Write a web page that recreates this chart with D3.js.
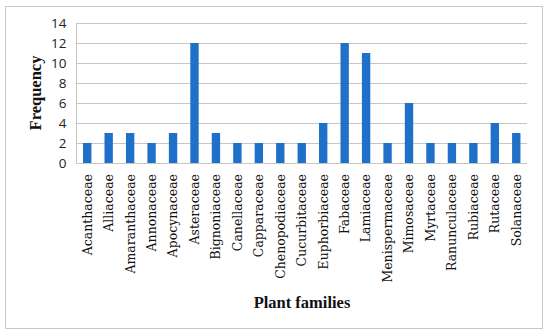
<!DOCTYPE html>
<html>
<head>
<meta charset="utf-8" />
<script src="https://d3js.org/d3.v7.min.js"></script>
<style>
  body { margin: 0; background: #fff; }
  .grid line { stroke: #c6c6c6; stroke-width: 1; }
  .ytick text { font-family: "Open Sans", "Liberation Sans", sans-serif; font-size: 13.5px; fill: #222; }
  .xlab { font-family: "DejaVu Serif", serif; font-size: 12.5px; fill: #111; }
  .title { font-family: "Liberation Serif", serif; font-size: 16.5px; font-weight: bold; fill: #111; }
</style>
</head>
<body>
<svg id="chart" width="550" height="334"></svg>
<script>
var families = ["Acanthaceae", "Alliaceae", "Amaranthaceae", "Annonaceae", "Apocynaceae",
  "Asteraceae", "Bignoniaceae", "Canellaceae", "Capparaceae", "Chenopodiaceae",
  "Cucurbitaceae", "Euphorbiaceae", "Fabaceae", "Lamiaceae", "Menispermaceae",
  "Mimosaceae", "Myrtaceae", "Ranunculaceae", "Rubiaceae", "Rutaceae", "Solanaceae"];
var frequency = [2, 3, 3, 2, 3, 12, 3, 2, 2, 2, 2, 4, 12, 11, 2, 6, 2, 2, 2, 4, 3];
var yTicks = [0, 2, 4, 6, 8, 10, 12, 14];

var svg = d3.select("#chart");

// outer frame
svg.append("rect")
  .attr("x", 5.5).attr("y", 6.5)
  .attr("width", 537).attr("height", 322)
  .attr("fill", "none").attr("stroke", "#c8c8c8");

var plotLeft = 76.5, plotRight = 527, plotTop = 23, plotBottom = 163;

var x = d3.scaleBand().domain(families).range([plotLeft, plotRight]).paddingInner(0.61).paddingOuter(0.305);
var y = d3.scaleLinear().domain([0, 14]).range([plotBottom, plotTop]);

var grid = svg.append("g").attr("class", "grid");
grid.selectAll("line")
  .data(yTicks)
  .enter().append("line")
  .attr("x1", plotLeft).attr("x2", plotRight)
  .attr("y1", function(d) { return Math.round(y(d)) + 0.5; })
  .attr("y2", function(d) { return Math.round(y(d)) + 0.5; });

// y axis line
svg.append("line")
  .attr("x1", plotLeft).attr("x2", plotLeft)
  .attr("y1", plotTop).attr("y2", plotBottom + 0.5)
  .attr("stroke", "#c6c6c6");

var yl = svg.append("g").attr("class", "ytick");
yl.selectAll("text")
  .data(yTicks)
  .enter().append("text")
  .attr("x", plotLeft - 10)
  .attr("y", function(d) { return y(d); })
  .attr("dy", "0.35em")
  .attr("text-anchor", "end")
  .text(function(d) { return d; });

svg.append("g").selectAll("rect")
  .data(frequency)
  .enter().append("rect")
  .attr("x", function(d, i) { return x(families[i]); })
  .attr("width", x.bandwidth())
  .attr("y", function(d) { return y(d); })
  .attr("height", function(d) { return y(0) - y(d); })
  .attr("fill", "#1f70c8");

svg.append("g").selectAll("text")
  .data(families)
  .enter().append("text")
  .attr("class", "xlab")
  .attr("transform", function(d) {
    return "translate(" + (x(d) + x.bandwidth() / 2) + "," + (plotBottom + 11) + ") rotate(-90)";
  })
  .attr("dy", "0.35em")
  .attr("text-anchor", "end")
  .text(function(d) { return d; });

svg.append("text")
  .attr("class", "title")
  .attr("transform", "translate(35," + ((plotTop + plotBottom) / 2) + ") rotate(-90)")
  .attr("dy", "0.35em")
  .attr("text-anchor", "middle")
  .text("Frequency");

svg.append("text")
  .attr("class", "title")
  .attr("x", 302)
  .attr("y", 302)
  .attr("dy", "0.35em")
  .attr("text-anchor", "middle")
  .text("Plant families");
</script>
</body>
</html>
